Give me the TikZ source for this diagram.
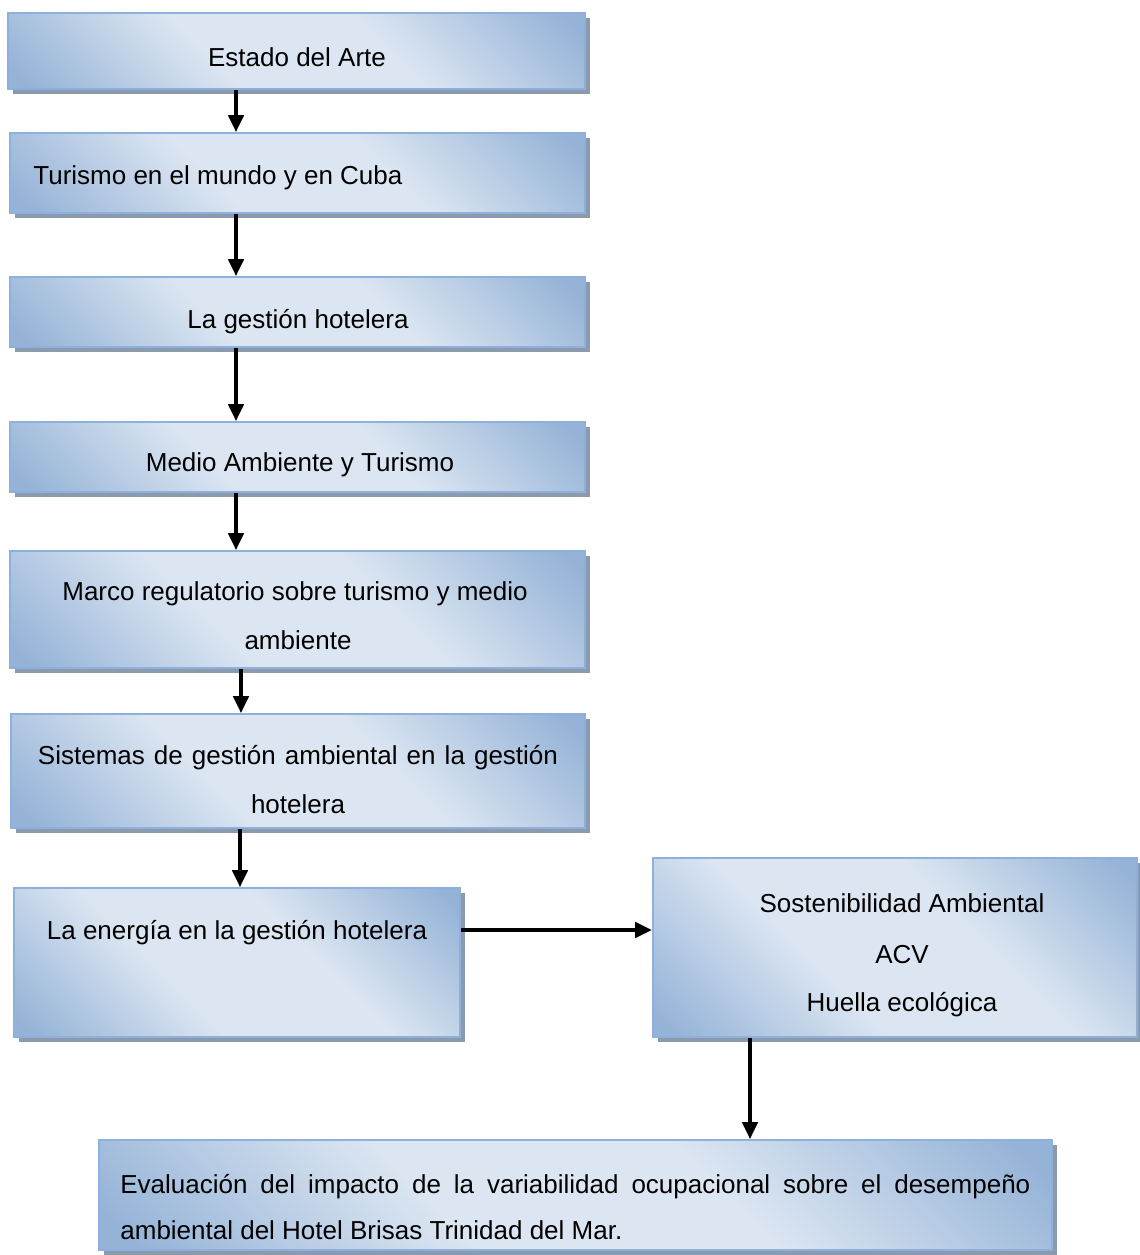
\documentclass[tikz,border=0pt]{standalone}
\usepackage{fontspec}
\setmainfont{Liberation Sans}
\usetikzlibrary{fit,shadows,arrows.meta}
\definecolor{boxdark}{RGB}{149,179,215}
\definecolor{boxlight}{RGB}{220,230,242}
\definecolor{boxborder}{RGB}{141,176,220}
\definecolor{shadowgray}{RGB}{140,154,174}
\pgfdeclareverticalshading{diagbox}{100bp}{color(0bp)=(boxdark); color(17bp)=(boxdark); color(40bp)=(boxlight); color(60bp)=(boxlight); color(83bp)=(boxdark); color(100bp)=(boxdark)}
\tikzset{
  flowbox/.style={rectangle, inner sep=0pt, draw=boxborder, line width=0.8pt,
    shading=diagbox, shading angle=-45,
    drop shadow={shadow xshift=2.5pt, shadow yshift=-2.5pt, fill=shadowgray, opacity=1}},
  lbl/.style={font=\fontsize{13}{23}\selectfont, inner sep=0pt, text=black},
  arr/.style={line width=2pt, -{Triangle[length=8.5pt,width=7.5pt]}}
}
\begin{document}
\begin{tikzpicture}[x=0.5pt,y=-0.5pt]
\useasboundingbox (0,0) rectangle (1140,1255);
% boxes
\node[flowbox, fit={(8,13) (585,89)}] (b1) {};
\node[flowbox, fit={(10,133) (585,213)}] (b2) {};
\node[flowbox, fit={(10,277) (585,347)}] (b3) {};
\node[flowbox, fit={(10,422) (585,492)}] (b4) {};
\node[flowbox, fit={(10,551) (585,668)}] (b5) {};
\node[flowbox, fit={(11,714) (585,828)}] (b6) {};
\node[flowbox, fit={(14,888) (460,1037)}] (b7) {};
\node[flowbox, fit={(653,858) (1137,1037)}] (b8) {};
\node[flowbox, fit={(99,1140) (1052,1250)}] (b9) {};
% labels
\node[lbl] (t1) at (297,57) {Estado del Arte};
\node[lbl, anchor=west] (t2) at (33,178) {Turismo en el mundo y en Cuba};
\node[lbl] (t3) at (298,322) {La gestión hotelera};
\node[lbl] (t4) at (300,465) {Medio Ambiente y Turismo};
\node[lbl] (t5a) at (295,594) {Marco regulatorio sobre turismo y medio};
\node[lbl] (t5b) at (298,640) {ambiente};
\node[lbl] (t6a) at (298,758) {\makebox[260pt][s]{Sistemas de gestión ambiental en la gestión}};
\node[lbl] (t6b) at (298,804) {hotelera};
\node[lbl] (t7) at (237,933) {La energía en la gestión hotelera};
\node[lbl] (t8a) at (902,903) {Sostenibilidad Ambiental};
\node[lbl] (t8b) at (902,955) {ACV};
\node[lbl] (t8c) at (902,1005) {Huella ecológica};
\node[lbl, anchor=west] (t9a) at (120,1187) {\makebox[455pt][s]{Evaluación del impacto de la variabilidad ocupacional sobre el desempeño}};
\node[lbl, anchor=west] (t9b) at (120,1230) {ambiental del Hotel Brisas Trinidad del Mar.};
% arrows
\draw[arr] (b1.south -| 236,0) -- (b2.north -| 236,0);
\draw[arr] (b2.south -| 236,0) -- (b3.north -| 236,0);
\draw[arr] (b3.south -| 236,0) -- (b4.north -| 236,0);
\draw[arr] (b4.south -| 236,0) -- (b5.north -| 236,0);
\draw[arr] (b5.south -| 241,0) -- (b6.north -| 241,0);
\draw[arr] (b6.south -| 240,0) -- (b7.north -| 240,0);
\draw[arr, line width=2.4pt] (b7.east |- 0,930) -- (b8.west |- 0,930);
\draw[arr] (b8.south -| 750,0) -- (b9.north -| 750,0);
\end{tikzpicture}
\end{document}
